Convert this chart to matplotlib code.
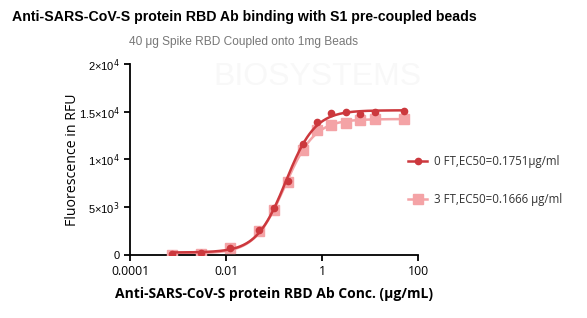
import numpy as np
import matplotlib.pyplot as plt
from matplotlib.ticker import FixedLocator, FixedFormatter, NullLocator

# concentrations (ug/mL) and RFU
conc = [0.00076, 0.00305, 0.0122, 0.0488, 0.0977, 0.195, 0.39, 0.78, 1.5625, 3.125, 6.25, 12.5, 50]
rfu_0ft = [70, 175, 770, 2620, 4960, 7750, 11590, 13960, 14830, 14940, 14730, 14940, 15080]
rfu_3ft = [0, 105, 700, 2510, 4680, 7680, 10990, 13090, 13610, 13850, 14100, 14200, 14200]
ec50_0ft = 0.1751
ec50_3ft = 0.1666
labels = ["0 FT,EC50=0.1751\u03bcg/ml", "3 FT,EC50=0.1666 \u03bcg/ml"]

dark = "#cc383d"
light = "#f4a3a6"


def fit_4pl(x, y, ec50):
    # grid over hill slope, bottom/top by least squares
    x = np.asarray(x)
    y = np.asarray(y)
    best = None
    for h in np.linspace(0.5, 3, 251):
        f = 1 / (1 + (ec50 / x) ** h)
        A = np.column_stack([1 - f, f])
        coef, res, _, _ = np.linalg.lstsq(A, y, rcond=None)
        err = np.sum((A @ coef - y) ** 2)
        if best is None or err < best[0]:
            best = (err, h, coef)
    _, h, (bot, top) = best
    return lambda xx: bot + (top - bot) / (1 + (ec50 / xx) ** h)


fig = plt.figure(figsize=(5.87, 3.18), dpi=100)
ax = fig.add_axes([0.2215, 0.198, 0.491, 0.601])

xs = np.logspace(np.log10(conc[0]), np.log10(conc[-1]), 300)
f0 = fit_4pl(conc, rfu_0ft, ec50_0ft)
f3 = fit_4pl(conc, rfu_3ft, ec50_3ft)

ax.plot(xs, f3(xs), color=light, lw=1.8, zorder=2)
ax.plot(conc, rfu_3ft, "s", color=light, ms=6.5, zorder=3)
ax.plot(xs, f0(xs), color=dark, lw=1.8, zorder=4)
ax.plot(conc, rfu_0ft, "o", color=dark, ms=4.5, zorder=5)

# faint watermark
ax.text(0.29, 0.89, "BIOSYSTEMS", transform=ax.transAxes, fontsize=23, color="#f8f8f8",
        family="Liberation Sans", zorder=0)

# legend handles
ax.plot([], [], color=dark, lw=1.8, marker="o", ms=4.5, label=labels[0])
ax.plot([], [], color=light, lw=1.8, marker="s", ms=6.5, label=labels[1])
leg = ax.legend(loc="center left", bbox_to_anchor=(0.93, 0.39), frameon=False,
                handlelength=1.6, handletextpad=0.6, labelspacing=2.2,
                prop={"family": "Open Sans", "size": 8.3})
for t in leg.get_texts():
    t.set_color("#333333")

ax.set_xscale("log")
ax.set_xlim(1e-4, 100)
ax.set_ylim(0, 20000)

ax.xaxis.set_major_locator(FixedLocator([1e-4, 1e-2, 1, 100]))
ax.xaxis.set_major_formatter(FixedFormatter(["0.0001", "0.01", "1", "100"]))
ax.xaxis.set_minor_locator(NullLocator())
ax.set_yticks([0, 5000, 10000, 15000, 20000])
ax.set_yticklabels(["0", "5\u00d710$^3$", "1\u00d710$^4$", "1.5\u00d710$^4$", "2\u00d710$^4$"])

for s in ["top", "right"]:
    ax.spines[s].set_visible(False)
for s in ["left", "bottom"]:
    ax.spines[s].set_linewidth(1.3)
ax.tick_params(width=1.3, length=4)
ax.tick_params(axis="y", labelsize=8)
ax.tick_params(axis="x", labelsize=8.8)
for lab in ax.get_xticklabels():
    lab.set_family("Open Sans")
for lab in ax.get_yticklabels():
    lab.set_family("Liberation Sans")

ax.set_xlabel("Anti-SARS-CoV-S protein RBD Ab Conc. (\u03bcg/mL)", fontsize=10,
              fontweight="bold", family="Open Sans", labelpad=6)
ax.set_ylabel("Fluorescence in RFU", fontsize=10.2, family="Open Sans", labelpad=-1)

fig.text(0.416, 0.935, "Anti-SARS-CoV-S protein RBD Ab binding with S1 pre-coupled beads",
         ha="center", fontsize=10.2, fontweight="bold", family="Liberation Sans")
fig.text(0.414, 0.86, "40 \u03bcg Spike RBD Coupled onto 1mg Beads", ha="center",
         fontsize=8.6, color="#777777", family="Liberation Sans")

fig.savefig("out.png", dpi=100)
